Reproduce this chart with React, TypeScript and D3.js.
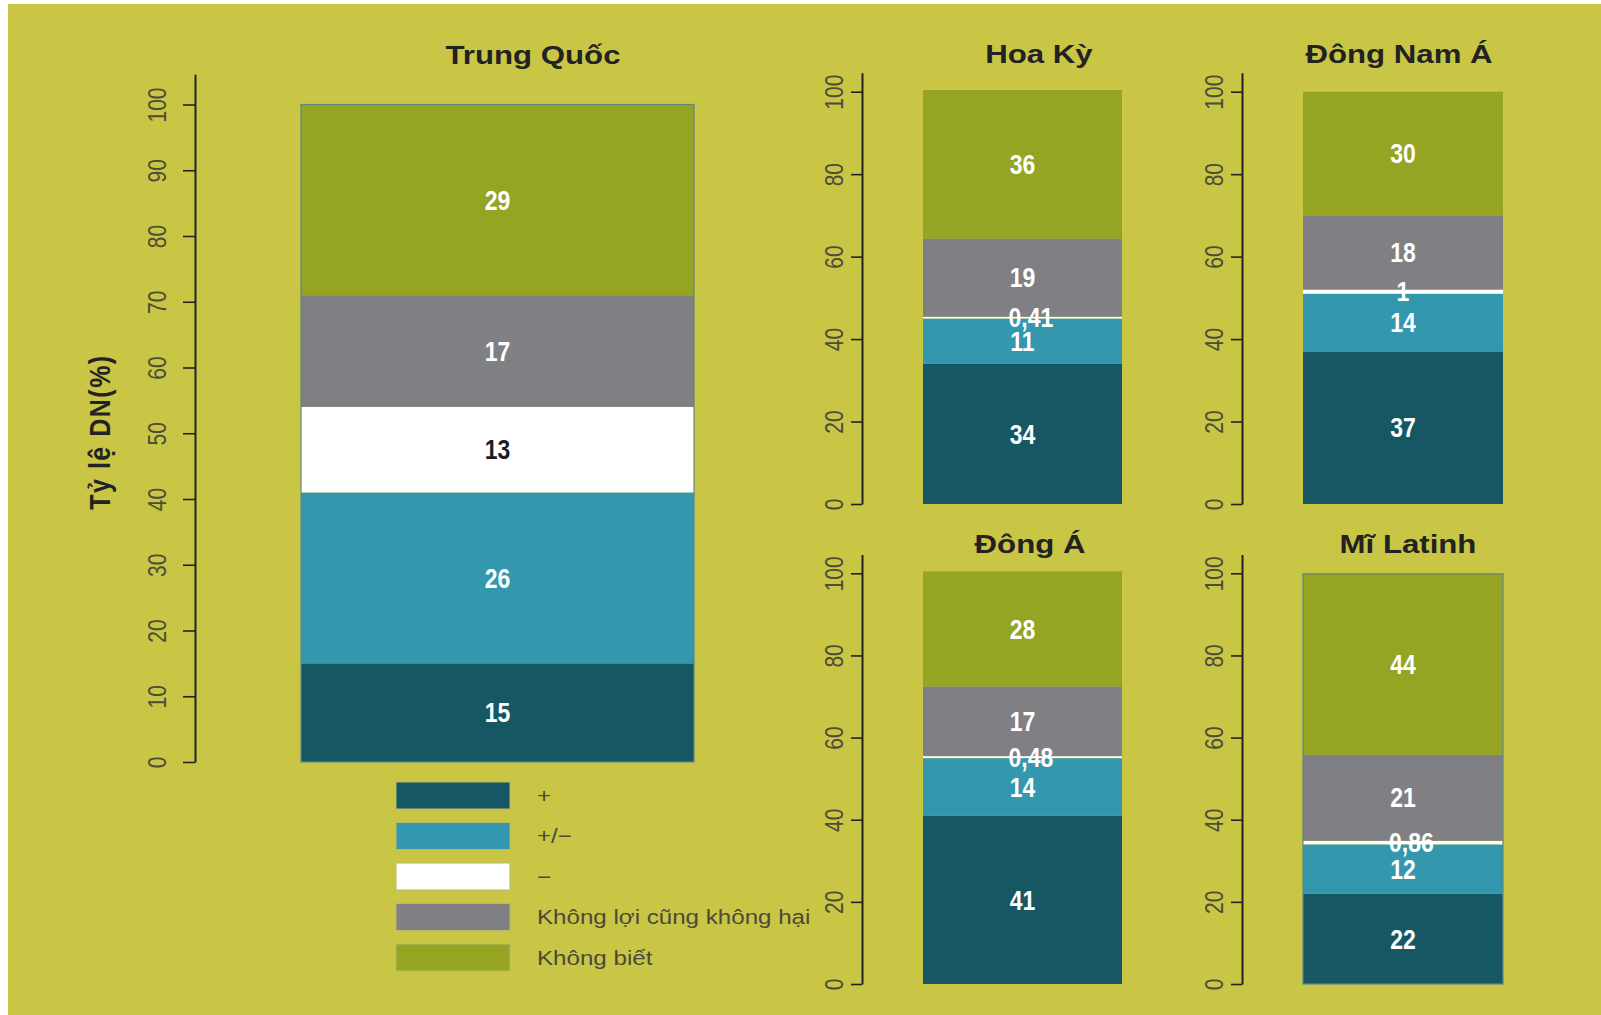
import React, { useRef, useEffect } from 'react';
import { select, scaleLinear, axisLeft, stack, range } from 'd3';

// regions (one bar each) and the answer categories stacked bottom-up
const regions = ["Trung Quốc", "Hoa Kỳ", "Đông Nam Á", "Đông Á", "Mĩ Latinh"];
const categories = ["+", "+/\u2212", "\u2212", "Không lợi cũng không hại", "Không biết"];

const positive = [15, 34, 37, 41, 22];
const mixed = [26, 11, 14, 14, 12];
const negative = [13, 0.41, 1, 0.48, 0.86];
const neutral = [17, 19, 18, 17, 21];
const unknown = [29, 36, 30, 28, 44];

const yAxisTitle = "Tỷ lệ DN(%)";

const keys = ["positive", "mixed", "negative", "neutral", "unknown"];
const colors = ["#175763", "#3397ad", "#ffffff", "#808084", "#95a423"];

const FONT = "'Liberation Sans', Arial, sans-serif";

// where each small plot sits on the page
const panels = [
  { axisX: 195, barL: 301, barR: 694, y0: 762, y100: 104.5, step: 10, tick: 12, gap: 29, titleX: 533, titleY: 64, outline: true },
  { axisX: 862, barL: 923, barR: 1122, y0: 504, y100: 91.7, step: 20, tick: 11, gap: 19, titleX: 1039, titleY: 63, outline: false },
  { axisX: 1242, barL: 1303, barR: 1503, y0: 504, y100: 91.7, step: 20, tick: 11, gap: 19, titleX: 1399, titleY: 63, outline: false },
  { axisX: 862, barL: 923, barR: 1122, y0: 984, y100: 573.3, step: 20, tick: 11, gap: 19, titleX: 1030, titleY: 553, outline: false },
  { axisX: 1242, barL: 1303, barR: 1503, y0: 984, y100: 573.3, step: 20, tick: 11, gap: 19, titleX: 1408, titleY: 553, outline: true },
];

const fmt = (v) => (Number.isInteger(v) ? String(v) : String(v).replace('.', ','));

export default function App() {
  const svgRef = useRef(null);

  useEffect(() => {
    const svg = select(svgRef.current);
    svg.selectAll('*').remove();

    svg.append('rect').attr('width', 1601).attr('height', 1015).attr('fill', '#ffffff');
    svg.append('rect').attr('x', 8).attr('y', 4).attr('width', 1593).attr('height', 1011).attr('fill', '#c9c646');

    const rows = regions.map((r, i) => ({
      region: r,
      positive: positive[i],
      mixed: mixed[i],
      negative: negative[i],
      neutral: neutral[i],
      unknown: unknown[i],
    }));
    const series = stack().keys(keys)(rows);

    panels.forEach((p, i) => {
      const y = scaleLinear().domain([0, 100]).range([p.y0, p.y100]);
      const top = 104.6;
      const yAxisScale = scaleLinear().domain([0, top]).range([p.y0, y(top)]);

      const g = svg.append('g');

      // bar segments
      series.forEach((s, k) => {
        const d = s[i];
        g.append('rect')
          .attr('x', p.barL)
          .attr('y', y(d[1]))
          .attr('width', p.barR - p.barL)
          .attr('height', y(d[0]) - y(d[1]))
          .attr('fill', colors[k]);
      });
      if (p.outline) {
        const last = series[series.length - 1][i];
        g.append('rect')
          .attr('x', p.barL)
          .attr('y', y(last[1]))
          .attr('width', p.barR - p.barL)
          .attr('height', y(0) - y(last[1]))
          .attr('fill', 'none')
          .attr('stroke', '#5f8585')
          .attr('stroke-width', 1.2);
      }

      // value labels
      const cx = (p.barL + p.barR) / 2;
      series.forEach((s, k) => {
        const d = s[i];
        const v = rows[i][keys[k]];
        const decimal = !Number.isInteger(v);
        const ly = (y(d[0]) + y(d[1])) / 2;
        g.append('text')
          .attr('transform', `translate(${decimal ? cx - 14 : cx},${ly}) scale(0.92,1.08)`)
          .attr('dy', '0.36em')
          .attr('text-anchor', decimal ? 'start' : 'middle')
          .attr('font-family', FONT)
          .attr('font-weight', 'bold')
          .attr('font-size', 25)
          .attr('fill', k === 2 && v >= 5 ? '#1c1c28' : '#ffffff')
          .text(fmt(v));
      });

      // y axis
      const ax = g.append('g')
        .attr('transform', `translate(${p.axisX},0)`)
        .call(axisLeft(yAxisScale).tickValues(range(0, 101, p.step)).tickSize(p.tick).tickSizeOuter(0));
      ax.attr('font-family', null).attr('font-size', null);
      ax.select('.domain').attr('stroke', '#222').attr('stroke-width', 2);
      ax.selectAll('.tick line').attr('stroke', '#222').attr('stroke-width', 1.6);
      ax.selectAll('.tick text')
        .attr('x', 0)
        .attr('dy', 0)
        .attr('text-anchor', 'middle')
        .attr('font-family', FONT)
        .attr('font-size', 21)
        .attr('fill', '#4d4d3a')
        .attr('transform', `translate(${-p.gap},0) scale(1.25,1) rotate(-90)`);

      // title
      g.append('text')
        .attr('transform', `translate(${p.titleX},${p.titleY}) scale(1.2,1)`)
        .attr('text-anchor', 'middle')
        .attr('font-family', FONT)
        .attr('font-weight', 'bold')
        .attr('font-size', 26)
        .attr('fill', '#222')
        .text(regions[i]);
    });

    // y axis title
    svg.append('text')
      .attr('transform', 'translate(110,432) scale(1.2,1) rotate(-90)')
      .attr('text-anchor', 'middle')
      .attr('font-family', FONT)
      .attr('font-weight', 'bold')
      .attr('font-size', 25)
      .attr('letter-spacing', 1.5)
      .attr('fill', '#222')
      .text(yAxisTitle);

    // legend
    const lg = svg.append('g');
    categories.forEach((c, k) => {
      const cy = 795.5 + k * 40.5;
      lg.append('rect')
        .attr('x', 396)
        .attr('y', cy - 13.5)
        .attr('width', 114)
        .attr('height', 27)
        .attr('fill', colors[k])
        .attr('stroke', '#b9b86a')
        .attr('stroke-width', 1);
      lg.append('text')
        .attr('transform', `translate(537,${cy}) scale(1.15,1)`)
        .attr('dy', '0.35em')
        .attr('font-family', FONT)
        .attr('font-size', 21)
        .attr('fill', '#4a4a3a')
        .text(c);
    });
  }, []);

  return (
    <svg ref={svgRef} width={1601} height={1015} style={{ position: 'absolute', left: 0, top: 0 }} />
  );
}
